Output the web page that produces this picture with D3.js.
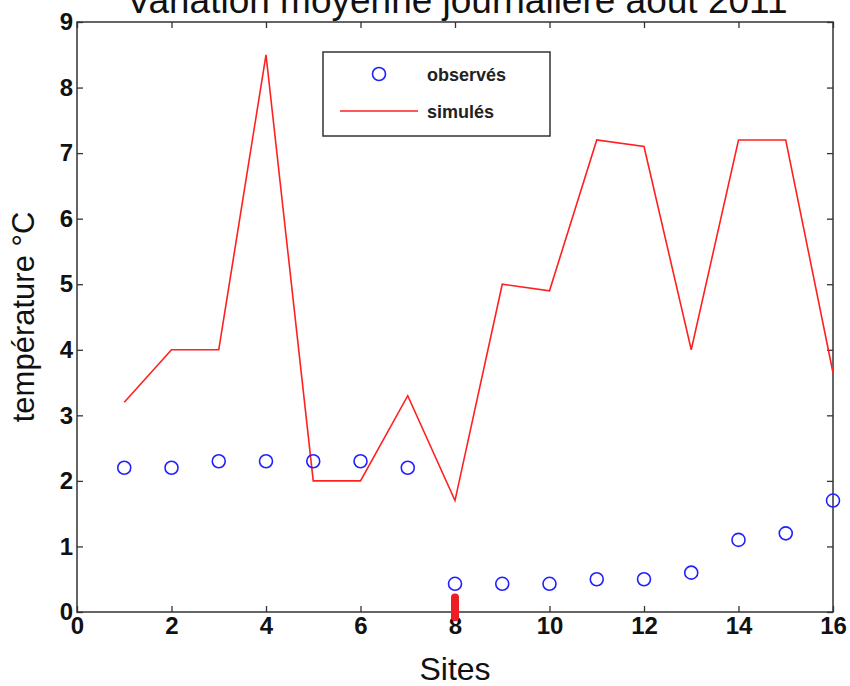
<!DOCTYPE html>
<html>
<head>
<meta charset="utf-8">
<script src="https://cdn.jsdelivr.net/npm/d3@7"></script>
<style>
  body { margin: 0; background: #fff; }
  svg { display: block; }
</style>
</head>
<body>
<svg id="chart" width="850" height="686"></svg>
<script>
// data
const sites = [1, 2, 3, 4, 5, 6, 7, 8, 9, 10, 11, 12, 13, 14, 15, 16]
const observes = [2.2, 2.2, 2.3, 2.3, 2.3, 2.3, 2.2, 0.43, 0.43, 0.43, 0.5, 0.5, 0.6, 1.1, 1.2, 1.7]
const simules = [3.2, 4.0, 4.0, 8.5, 2.0, 2.0, 3.3, 1.7, 5.0, 4.9, 7.2, 7.1, 4.0, 7.2, 7.2, 3.65]
const xTicks = [0, 2, 4, 6, 8, 10, 12, 14, 16]
const yTicks = [0, 1, 2, 3, 4, 5, 6, 7, 8, 9]
// short red bar drawn at site 8
const redMark = { site: 8, from: 0.22, to: -0.08 }

const svg = d3.select('#chart')
const margin = { top: 22, right: 17, bottom: 74, left: 77 }
const width = 850 - margin.left - margin.right
const height = 686 - margin.top - margin.bottom
const g = svg.append('g').attr('transform', 'translate(' + margin.left + ',' + margin.top + ')')

const x = d3.scaleLinear().domain([0, 16]).range([0, width])
const y = d3.scaleLinear().domain([0, 9]).range([height, 0])

const axisColor = '#333'
const tickLen = 6
const font = 'Liberation Sans, Arial, sans-serif'

// title (cut by the top edge like in the reference)
svg.append('text')
  .attr('x', margin.left + width / 2 + 2)
  .attr('y', 13)
  .attr('text-anchor', 'middle')
  .attr('font-family', font)
  .attr('font-size', 37)
  .attr('fill', '#111')
  .text('Variation moyenne journalière août 2011')

// frame
g.append('rect')
  .attr('width', width)
  .attr('height', height)
  .attr('fill', 'none')
  .attr('stroke', axisColor)
  .attr('stroke-width', 1.5)

// axes: inward ticks on all four sides
const styleAxis = sel => {
  sel.select('.domain').remove()
  sel.selectAll('.tick line').attr('stroke', axisColor).attr('stroke-width', 1.3)
  sel.selectAll('.tick text')
    .attr('font-family', font)
    .attr('font-size', 24)
    .attr('font-weight', 'bold')
    .attr('fill', '#111')
}

g.append('g')
  .attr('transform', 'translate(0,' + height + ')')
  .call(d3.axisBottom(x).tickValues(xTicks).tickFormat(d3.format('d')).tickSizeInner(-tickLen).tickSizeOuter(0).tickPadding(5))
  .call(styleAxis)

g.append('g')
  .call(d3.axisTop(x).tickValues(xTicks).tickFormat('').tickSizeInner(-tickLen).tickSizeOuter(0))
  .call(styleAxis)

g.append('g')
  .call(d3.axisLeft(y).tickValues(yTicks).tickFormat(d3.format('d')).tickSizeInner(-tickLen).tickSizeOuter(0).tickPadding(4))
  .call(styleAxis)

g.append('g')
  .attr('transform', 'translate(' + width + ',0)')
  .call(d3.axisRight(y).tickValues(yTicks).tickFormat('').tickSizeInner(-tickLen).tickSizeOuter(0))
  .call(styleAxis)

// axis labels
svg.append('text')
  .attr('x', margin.left + width / 2)
  .attr('y', 680)
  .attr('text-anchor', 'middle')
  .attr('font-family', font)
  .attr('font-size', 32)
  .attr('fill', '#111')
  .text('Sites')

svg.append('text')
  .attr('transform', 'translate(34,' + (margin.top + height / 2) + ') rotate(-90)')
  .attr('text-anchor', 'middle')
  .attr('font-family', font)
  .attr('font-size', 31)
  .attr('fill', '#111')
  .text('température °C')

// simulated line
const line = d3.line()
  .x((d, i) => x(sites[i]))
  .y(d => y(d))

g.append('path')
  .datum(simules)
  .attr('d', line)
  .attr('fill', 'none')
  .attr('stroke', '#ff2020')
  .attr('stroke-width', 1.6)

// observed points
g.selectAll('circle.obs')
  .data(observes)
  .enter().append('circle')
  .attr('class', 'obs')
  .attr('cx', (d, i) => x(sites[i]))
  .attr('cy', d => y(d))
  .attr('r', 6.5)
  .attr('fill', 'none')
  .attr('stroke', '#2020ff')
  .attr('stroke-width', 1.6)

// red bar at site 8
g.append('line')
  .attr('x1', x(redMark.site))
  .attr('x2', x(redMark.site))
  .attr('y1', y(redMark.from))
  .attr('y2', y(redMark.to))
  .attr('stroke', '#ee1c24')
  .attr('stroke-width', 8)
  .attr('stroke-linecap', 'round')

// legend
const legend = svg.append('g').attr('transform', 'translate(323,52)')
legend.append('rect')
  .attr('width', 227)
  .attr('height', 84)
  .attr('fill', '#fff')
  .attr('stroke', axisColor)
  .attr('stroke-width', 1.5)
legend.append('circle')
  .attr('cx', 56)
  .attr('cy', 22)
  .attr('r', 6.5)
  .attr('fill', 'none')
  .attr('stroke', '#2020ff')
  .attr('stroke-width', 1.6)
legend.append('line')
  .attr('x1', 17)
  .attr('x2', 95)
  .attr('y1', 59)
  .attr('y2', 59)
  .attr('stroke', '#ff2020')
  .attr('stroke-width', 1.6)
const legendLabels = ['observés', 'simulés']
legend.selectAll('text.lab')
  .data(legendLabels)
  .enter().append('text')
  .attr('class', 'lab')
  .attr('x', 104)
  .attr('y', (d, i) => i === 0 ? 29 : 66)
  .attr('font-family', font)
  .attr('font-size', 18)
  .attr('font-weight', 'bold')
  .attr('fill', '#222')
  .text(d => d)
</script>
</body>
</html>
